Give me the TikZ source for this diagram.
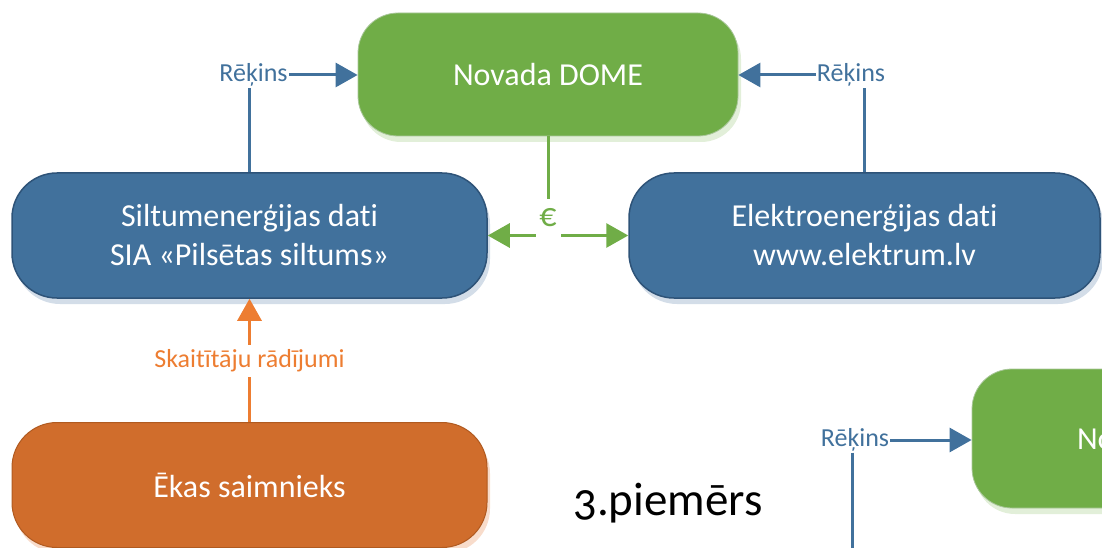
\documentclass[tikz,border=0pt]{standalone}
\usepackage{fontspec}
\setmainfont{Carlito}[Ligatures={NoCommon}]
\usetikzlibrary{arrows.meta,shadows}

\definecolor{zila}{HTML}{41719C}
\definecolor{zilamala}{HTML}{2E5378}
\definecolor{zilaena}{HTML}{D3DDE8}
\definecolor{zala}{HTML}{70AD47}
\definecolor{zalamala}{HTML}{A9C79A}
\definecolor{zalaena}{HTML}{E2EFD9}
\definecolor{oranza}{HTML}{D06D2C}
\definecolor{oranzamala}{HTML}{B05A20}
\definecolor{oranzaena}{HTML}{F8DCCB}
\definecolor{oranzabulta}{HTML}{ED7D31}

\tikzset{
	kaste/.style={rectangle, align=center, text=white, line width=1.5pt,
		font=\fontsize{32}{39}\selectfont},
	domebox/.style={kaste, fill=zala, draw=zalamala, line width=.8pt, rounded corners=40pt,
		minimum width=380pt, minimum height=123pt,
		general shadow={fill=zalaena, shadow xshift=3pt, shadow yshift=-6pt}},
	datibox/.style={kaste, fill=zila, draw=zilamala, rounded corners=45pt,
		minimum width=475pt, minimum height=125pt,
		general shadow={fill=zilaena, shadow xshift=3pt, shadow yshift=-6pt}},
	ekasbox/.style={kaste, fill=oranza, draw=oranzamala, line width=1pt, rounded corners=45pt,
		minimum width=475pt, minimum height=125pt,
		general shadow={fill=oranzaena, shadow xshift=3pt, shadow yshift=-6pt}},
	rekins/.style={text=zila, inner sep=1pt, font=\fontsize{26}{30}\selectfont},
	zilabulta/.style={draw=zila, line width=3pt},
	zalabulta/.style={draw=zala, line width=3pt},
	oranzabulta/.style={draw=oranzabulta, line width=3pt}
}

\begin{document}
\begin{tikzpicture}[x=1pt, y=-1pt, >={Triangle[length=22pt,width=24pt]}]
	\useasboundingbox (0,0) rectangle (1102,548);
	\clip (0,0) rectangle (1102,548);

	% boxes
	\node[domebox] (dome) at (548,74.5) {Novada DOME};
	\node[datibox] (siltums) at (249.5,235.5) {Siltumenerģijas dati\\SIA «Pilsētas siltums»};
	\node[datibox, minimum width=471pt] (elektrum) at (864.5,235.5) {Elektroenerģijas dati\\www.elektrum.lv};
	\node[ekasbox] (ekas) at (249.5,485) {Ēkas saimnieks};
	\node[domebox, minimum width=400pt, minimum height=139pt] (dome2) at (1172,438.5) {Novada DOME};
	\node[font=\fontsize{47}{56}\selectfont\addfontfeature{Numbers=OldStyle}] (piemers) at (668,503) {3.piemērs};

	% labels
	\node[rekins] (rek1) at (253.5,75) {Rēķins};
	\node[rekins] (rek2) at (851,75) {Rēķins};
	\node[rekins] (rek3) at (855,440) {Rēķins};
	\node[text=oranzabulta, inner sep=5pt, font=\fontsize{26}{30}\selectfont] (skait) at (249.5,361) {Skaitītāju rādījumi};
	\coordinate (rek3gals) at (852,560);

	% invoices
	\draw[zilabulta] (siltums.north) -- (siltums.north |- rek1.south);
	\draw[zilabulta, ->] (rek1.east) -- (rek1.east -| dome.west);
	\draw[zilabulta] (elektrum.north) -- (elektrum.north |- rek2.south);
	\draw[zilabulta, ->] (rek2.west) -- (rek2.west -| dome.east);
	\draw[zilabulta] (rek3.south -| rek3gals) -- (rek3gals);
	\draw[zilabulta, ->] (rek3.east) -- (rek3.east -| dome2.west);

	% meter readings
	\draw[oranzabulta] (ekas.north) -- (skait.south);
	\draw[oranzabulta, ->] (skait.north) -- (siltums.south);

	% payment
	\draw[zalabulta, <->] (siltums.east) -- (elektrum.west);
	\node[fill=white, text=zala, inner sep=3pt, minimum width=25pt, minimum height=38pt,
		font=\fontsize{34}{40}\selectfont] (eiro) at (548,218) {€};
	\draw[zalabulta] (dome.south) -- (eiro.north);
\end{tikzpicture}
\end{document}
